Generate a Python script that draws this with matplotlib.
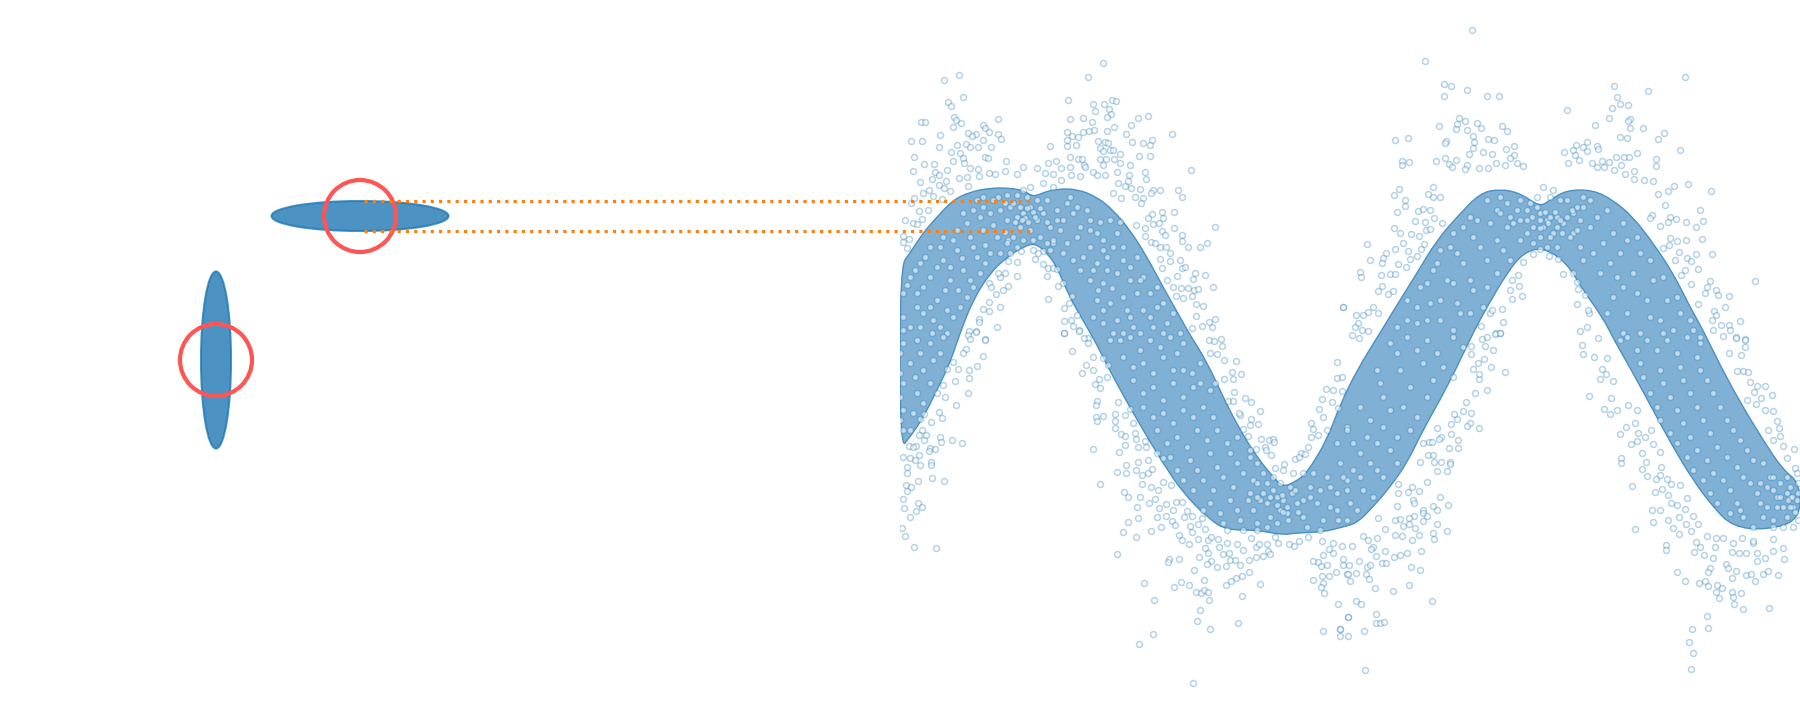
import numpy as np
import matplotlib
matplotlib.use('Agg')
import matplotlib.pyplot as plt
from matplotlib.patches import Ellipse, Circle, PathPatch
from matplotlib.path import Path

# left panel, ellipse and probe circle: (cx, cy, half width, half height)
ellipse_a = (360, 216, 88.5, 15)
ellipse_b = (216, 360, 15, 88.5)
probe_r = 36
guide_x = [364, 1030]
guide_y = [201.3, 231.3]

# edges of the band
upper_x = [900,910,923,937,953,970,990,1010,1025,1033,1045,1057,1077,1097,1113,1130,1147,1163,1180,1190,1207,1223,1240,1257,1273,1283,
           1295,1307,1327,1340,1357,1380,1397,1417,1437,1457,1480,1500,1520,1540,1550,1567,1593,1613,1633,1653,1673,1690,1703,1720,1740,1763,1783,1800]
upper_y = [267,253,233,217,200,192,188,188,191,197,192,189,189,197,210,230,257,287,317,335,362,397,430,457,477,487,
           482,473,440,405,370,333,305,273,240,217,193,189,193,207,200,190,190,200,217,243,273,307,330,365,402,440,470,483]
lower_x = [1800,1767,1733,1713,1693,1673,1653,1633,1613,1603,1583,1567,1543,1523,1507,1487,1473,1457,1440,1423,1407,1390,1373,1357,1343,1323,1295,1283,1257,1227,1210,1183,1163,1143,1123,1107,1097,1087,1070,1057,1047,1035,1023,1007,990,973,960,950,937,923,910,900]
lower_y = [520,530,527,507,480,447,410,373,338,318,290,263,247,253,273,307,333,367,400,430,463,487,507,523,527,532,533,535,530,530,520,493,463,430,395,365,345,327,298,267,253,243,247,257,273,300,333,363,390,418,437,449]

# scatter points, as (x, y) in 3x crops of the picture, one list per crop
crop_a = (890, 40)
crop_b = (890, 330)
crop_c = (1340, 20)
crop_d = (1340, 330)

loose_a = [(640,70),(595,112),(208,106),(163,121),(220,172),(175,187),(184,199),(535,181),(610,193),(643,193),(667,181),(679,184),(657,208),(616,214),(664,223),(652,232),(193,232),(199,241),(214,250),(94,247),(106,247),(190,262),(325,238),(541,238),(580,235),(607,247),(745,235),(775,229),(724,256),(278,256),(286,265),(298,277),(233,280),(259,283),(247,289),(151,286),(325,283),(334,298),(280,301),(64,304),(97,304),(532,277),(580,277),(598,274),(613,271),(652,274),(673,262),(709,283),(847,283),(545,289),(565,292),(532,301),(532,319),(559,316),(481,319),(625,304),(646,307),(655,310),(727,307),(760,310),(787,301),(781,316),(631,325),(640,334),(661,331),(668,331),(691,343),(304,322),(202,316),(229,313),(241,322),(265,322),(146,322),(184,337),(211,340),(73,352),(286,352),(295,355),(349,364),(103,373),(133,373),(190,364),(220,355),(223,370),(541,352),(565,358),(577,358),(631,358),(649,358),(673,358),(691,370),(721,376),(748,349),(781,349),(400,382),(442,385),(475,370),(499,364),(70,394),(172,391),(136,397),(148,406),(346,394),(265,388),(241,385),(583,376),(586,382),(640,376),(514,385),(541,382),(682,397),(718,406),(766,397),(904,391),(769,418),(646,406),(91,427),(127,418),(169,424),(208,415),(232,412),(268,409),(298,400),(316,403),(382,403),(466,400),(490,403),(514,421),(544,406),(571,409),(610,397),(622,406),
           (118,451),(148,436),(163,445),(100,460),(73,475),(130,469),(157,478),(181,454),(235,439),(685,430),(706,439),(715,424),(751,448),(724,445),(790,451),(811,451),(865,451),(877,472),(784,460),(760,475),(736,472),(670,460),(694,475),(754,490),(853,517),(817,517),(787,523),(775,535),(820,535),(790,553),(808,550),(853,565),(766,565),(976,562),(817,574),(877,586),(826,586),(766,589),(739,556),(784,607),(796,610),(877,604),(895,622),(931,622),(952,610),(811,622),(829,622),(841,640),(811,658),(841,664),(871,661),(817,685),(877,685),(886,682),(916,700),(946,706),(862,709),(832,721),(909,718),(970,742),(850,742),(874,745),(895,745),(913,751),(925,748),(859,769),(880,775),(907,769),(919,793),(940,799),(919,829),(976,838),(958,847),(967,862),(937,859),(907,865),(1360,802),(64,490),(88,514),(115,511),(46,541),(70,548),(97,538),(82,553),(40,589),(58,598),(40,607),(52,625),
           (436,658),(460,673),(472,709),(475,685),(490,685),(502,688),(505,739),(520,730),(475,778),(382,709),(355,739),(340,751),(331,802),(298,787),(298,814),(280,808),(268,838),(268,847),(322,862),(259,874),(238,874),(235,886),(286,898),(523,880),(523,844),(523,805),(547,769),(538,790),(562,826),(544,841),(550,859),(568,871),(595,893),(329,712),(298,730),(304,742),(319,763),(382,667),(355,664),(361,640),(394,634),(346,700),(325,700),(460,634),(445,640),(490,610)]

loose_b = [(523,10),(568,3),(286,31),(259,5),(241,28),(229,58),(220,70),(280,79),(262,109),(238,121),(238,145),(235,190),(199,226),(205,118),(190,97),(172,118),(196,154),(160,166),(166,202),(142,190),(124,277),(148,247),(157,265),(103,253),(91,268),(97,301),(109,316),(88,316),(151,322),(154,337),(187,331),(217,340),(103,331),(58,349),(79,349),(70,352),(121,355),(136,358),(118,364),(88,376),(40,382),(61,385),(76,391),(124,397),(124,406),(91,406),(52,412),(52,430),(127,445),(85,454),(163,454),(49,466),(64,472),(52,484),(40,508),(85,520),(97,532),(79,544),(43,535),(61,562),(35,595),(46,619),(73,652),(139,655),
           (547,64),(577,130),(589,106),(610,121),(616,163),(631,175),(628,148),(652,142),(655,106),(640,85),(610,82),(583,25),(595,40),(610,358),(688,367),(631,463),(622,214),(619,226),(619,262),(640,259),(622,274),(676,253),(676,274),(676,295),(694,313),(706,319),(706,346),(685,217),(706,256),(721,238),(730,280),(736,310),(738,328),(745,352),(766,334),(769,352),(775,391),(745,397),(709,406),(709,430),(682,427),(739,421),(757,436),(757,463),(775,430),(787,418),(802,370),(820,385),(703,487),(715,502),(751,502),(784,472),(778,520),(796,508),(742,532),(805,481),(820,457),(844,466),(808,535),(829,523),(850,541),(715,577),(745,565),(802,562),(829,559),(847,574),(856,586),(700,607),(739,622),(784,604),(814,592),(682,673),(868,616),(877,631),(898,643),(877,517),(859,517),(892,544),(907,559),(883,562),(937,565),(901,589),(907,607),(925,583),(925,628),(946,598),(955,631),(964,622),(946,655),(955,670),(928,682),(868,688),(838,688),(835,697),(913,721),(943,751),(763,760),(793,811),(853,772),(874,757),(898,766),(919,787),(934,790),(943,781),(955,787),(958,811),(931,841),(922,874),(961,898),(790,913),(748,943),(1045,880),(910,1060),
           (982,712),(964,694),(952,703),(1009,709),(1021,691),(1051,706),(1036,691),(1078,691),(1060,661),(1099,652),(1135,664),(1141,673),(1099,682),(1120,679),(1009,766),(1024,754),(1039,745),(1057,739),(1078,727),(1111,763),(1057,799),(1000,673),(1018,670),(988,652),(985,628),(1012,640),(1042,643),(1084,625),(1108,643),(1132,643),(1156,622),(1165,640),(1198,643),(1213,649),(1228,634),(1255,622),(1295,634),(1330,640),(1355,649),(1268,694),(1283,697),(1292,709),(1312,706),(1268,751),(1295,739),(1316,739),(1337,727),(1298,760),(1292,772),(1303,790),(1345,823),(1360,706),(1300,904),(1351,898),(1351,919),(1375,862),(1372,733),(1330,670),(1298,676),(1318,658),
           (994,28),(958,31),(973,34),(997,49),(961,70),(982,73),(1003,91),(1039,94),(1054,133),(1027,127),(1030,148),(1003,148),(976,160),(1033,187),(1066,205),(1084,217),(1111,244),(1051,256),(1084,268),(1105,283),(1081,286),(1060,298),(1075,319),(1114,328),(1138,331),(1150,328),(1153,337),(1126,352),(1129,361),(1144,376),(1099,358),(1081,361),(1183,403),(1156,415),(1015,214),(1030,214),(1048,250),
           (1342,97),(1342,145),(1357,142),(1309,178),(1330,181),(1357,184),(1295,208),(1288,238),(1325,217),(1345,235),(1264,280),(1300,262),(1270,298),(1285,316),(1264,322),(1310,301),(1255,352),(1234,370),(1216,388),(1228,382),(1246,373)]

loose_c = [(397,31),(256,124),(313,193),(334,199),(382,211),(313,229),(442,229),(478,229),(682,271),(823,199),(832,232),(841,253),(865,256),(817,265),(808,295),(871,298),(865,304),(925,214),(1036,172),(298,319),(358,295),(376,304),(352,313),(349,328),(382,331),(412,310),(424,325),(487,319),(502,334),(766,316),(871,325),(910,325),(973,340),(955,358),(841,352),(862,355),(166,361),(205,355),(319,364),(316,370),(400,349),(403,367),(400,385),(388,403),(445,358),(463,361),(499,388),(523,379),(430,397),(457,403),(1021,391),(709,376),(742,367),(730,382),(772,379),(775,388),(742,394),(673,397),(700,391),(706,406),(718,421),(892,400),(829,412),(853,412),(868,412),(949,418),(949,439),(187,424),(187,436),(208,427),(289,424),(316,415),(349,421),(328,433),(337,442),(382,436),(376,448),(418,445),(445,445),(469,430),(523,406),(511,415),(496,436),(532,430),(550,439),(685,430),(757,430),(787,424),(808,427),(772,442),(793,442),(823,451),(844,436),(883,454),(1045,493),(1003,499),(985,514),(1114,514),(913,481),(940,484),(856,463),(883,478),(178,508),(163,526),(280,502),(265,523),(280,532),(301,532),(196,541),(196,559),(172,577),(235,574),(250,568),(271,571),(226,604),(283,595),(256,607),(307,610),(163,625),(181,640),(214,643),(238,649),(259,631),(271,628),(82,673),(190,670),(205,694),(253,673),(244,688),(137,700),(166,688),(91,721),(130,715),(127,730),(175,733),(199,742),(211,718),(232,709),(61,757),(64,772),(124,766),(151,763),(166,763),(127,799),(160,814),(115,814),(145,823),(10,862),(100,862),(49,886),(70,886),(115,880),(85,877),(55,910),(67,931),(85,934),(46,922),(37,946),(58,955),
           (1081,571),(1090,604),(1039,607),(1069,622),(1009,598),(991,592),(985,607),(976,556),(955,523),(937,586),(931,595),(961,619),(1087,658),(1069,703),(1117,703),(1246,784),(1039,661),(1012,664),(991,655),(970,685),(988,676),(1018,697),(1006,721),(1042,715),(1054,724),(1075,748),(1024,766),(1111,784),(1054,793),(1102,802),(1129,811),(1135,826),(1168,829),(1156,862),(1075,853),(1123,874),(1129,886),(1201,904),(1115,901),(1144,916),(1168,916),(1171,931),(1120,931),(1150,949),(1189,952),(1216,958),(1036,751),(1096,820),
           (712,853),(748,880),(736,826),(745,871),(721,934),(742,922),(775,955),(712,787),(715,808),(670,763),(700,760),(628,709),(655,718),(580,703),(550,727),(601,688),(535,766),(538,799),(547,829),(517,838),(487,868),(451,880),(490,907),(469,940),(481,940),(424,919),(457,871),(517,781),(511,811)]

loose_d = [(496,127),(442,181),(406,190),(379,217),(418,148),(418,133),(400,118),(454,112),(433,88),(460,61),(415,100),(394,73),(394,49),(427,28),(436,49),(442,22),(466,13),(481,10),(370,244),(394,250),(352,268),(343,253),(391,280),(382,289),(418,295),(334,283),(292,295),(334,313),(355,331),(355,355),(328,355),(304,322),(298,328),(268,337),(277,337),(250,340),(304,397),(283,397),(331,397),(331,403),(322,424),(292,424),(265,376),(280,376),(241,397),(262,457),(217,472),(238,484),(205,487),(175,463),(175,490),(301,502),(325,526),(280,529),(292,541),(220,511),(223,520),(172,529),(250,541),(250,550),(262,559),(223,559),(208,565),(181,568),(166,571),(250,574),(292,583),(208,583),(190,589),(226,595),(322,604),(280,610),(238,616),(283,628),(217,631),(166,616),(187,619),(136,598),(115,565),(112,625),(244,664),(202,670),(181,676),(163,682),(136,664),(100,652),(70,619),(85,631),(94,658),(109,679),(127,700),(139,700),(214,712),(241,721),(80,712),(91,706),(58,694),(37,649),(10,688),(28,706),(49,730),(25,733),(79,733),(88,748),(31,754),(208,766),(160,784),(106,775),(277,814),(49,814),(64,823),(25,862),(109,853),(109,880),(121,880),(133,877),(73,904),(25,919),(76,1021),(0,898),
           (727,46),(730,73),(763,82),(802,85),(781,148),(820,154),(787,118),(799,133),(748,199),(814,205),(793,238),(811,253),(832,241),(865,226),(859,292),(841,313),(892,241),(886,280),(895,310),(874,343),(892,334),(916,322),(934,301),(940,343),(961,367),(907,370),(844,385),(844,400),(919,397),(964,412),(907,418),(922,439),(877,469),(949,448),(961,436),(982,448),(994,463),(1021,466),(946,487),(967,478),(985,496),(1042,505),(994,520),(1012,526),(937,541),(961,541),(1036,538),(1018,562),(940,577),(985,571),(886,598),(1000,595),(1018,613),(1039,583),(1060,559),(1075,583),(1054,604),(977,646),(979,661),(1063,667),(1081,652),(1069,637),(1102,619),(1129,625),(1012,727),(1036,754),(1078,760),(1096,754),(1105,769),(1111,715),(1105,727),(1093,676),(1120,685),(1159,703),(1165,715),(1189,724),(1177,745),(1219,736),(1234,733),(1246,754),(1270,733),(1285,724),(1313,736),(1130,766),(1145,775),(1129,787),(1138,805),(1175,787),(1178,802),(1204,790),(1181,823),(1210,838),(1288,835),(1102,859),(1105,895),(1057,898),(1048,937),(1060,970),(1054,1018),
           (1175,667),(1198,670),(1219,670),(1240,640),(1250,670),(1275,685),(1250,694),(1300,664),(1333,688),(1330,655),(1300,628),(1240,632),(1125,650),(1150,625),(1180,640),(1205,625),
           (1189,25),(1216,31),(1216,52),(1204,76),(1168,70),(1192,124),(1210,124),(1225,127),(1231,157),(1276,169),(1252,169),(1243,187),(1297,196),(1264,205),(1249,223),(1222,211),(1276,241),(1300,244),(1312,274),(1285,301),(1318,295),(1319,319),(1330,349),(1363,358),(1300,331),(1342,385),(1366,415),(1372,430)]

inner_a = [(360,500),(380,530),(400,520),(420,500),(440,540),(460,520),(480,560),(500,510),(520,540),(550,520),(570,560),(600,570),(390,560),(420,570),(350,540),(330,510),(300,520),(280,500),(250,510),(220,520),(450,590),(490,600),(530,610),(560,590),(600,620),(620,580),(640,600),(660,540),(680,580),(700,620),(650,650),(620,670),(580,650),(550,660),(600,720),(640,730),(680,700),(720,680),(760,710),(780,760),(740,760),(700,770),(660,790),(620,780),(640,850),(680,840),(720,830),(760,810),(800,800),(830,850),(790,860),(750,880),(700,880),(200,570),(160,590),(120,620),(90,670),(60,710),(40,760),(80,760),(120,710),(160,660),(200,630),(240,590),(280,570),(320,590),(300,640),(260,650),(220,690),(180,720),(140,780),(100,820),(60,860),(150,860),(190,830),(230,770),(270,700),(40,830),
           (230,550),(270,530),(310,555),(345,575),(190,600),(150,620),(215,655),(250,620),(285,615),(330,640),(355,600),(105,650),(75,690),(50,735),(100,740),(140,680),(180,680),(240,720),(205,750),(165,750),(120,800),(80,800),(40,870),(90,860),(130,840),(170,810),(210,800),(250,740),(285,670),(125,880),(170,880),(600,540),(630,545),(690,545),(640,630),(670,620),(700,660),(740,650),(720,720),(650,690),(610,690),(570,690),(625,750),(665,745),(710,810),(750,720),(800,740),(820,790),(850,820),(870,880),(820,880),(780,830),(730,860),(670,880),(610,830),(640,810)]
inner_b = [(40,40),(80,30),(120,40),(160,20),(60,100),(100,120),(40,160),(80,190),(120,160),(40,240),(70,250),(40,300),(660,30),(720,20),(780,30),(840,20),(880,40),(700,80),(760,100),(820,80),(880,120),(930,100),(730,150),(790,170),(850,160),(910,170),(960,180),(760,230),(820,250),(880,240),(940,230),(800,300),(860,320),(920,300),(980,300),(1040,320),(840,380),(900,390),(960,370),(1020,370),(1080,380),(880,450),(940,450),(1000,440),(1060,430),(1120,430),(960,520),(1020,510),(1080,490),(1110,510),(1150,480),(1180,510),(1200,470),(1220,520),(1170,540),(1190,550),(1140,560),(1090,540),(1050,570),(1000,580),(1240,560),(1280,520),(1260,470),(1310,440),(1350,400),(1300,570),(1340,540),(1370,480),(1340,340),(1370,290),
           (30,70),(90,70),(150,70),(30,130),(130,90),(75,140),(30,200),(100,220),(30,270),(60,300),(690,30),(750,60),(810,50),(860,70),(730,110),(790,130),(850,120),(905,130),(760,190),(820,210),(880,200),(930,160),(790,260),(850,280),(910,260),(970,260),(830,340),(890,350),(950,330),(1010,340),(860,420),(920,420),(980,410),(1040,400),(1100,400),(910,480),(970,480),(1030,470),(1090,450),(990,550),(1040,540),(1100,580),(940,540),(1010,600),(1060,600)]
inner_c = [(200,840),(240,800),(280,750),(300,690),(340,640),(390,590),(440,540),(480,530),(530,570),(570,550),(600,580),(620,600),(650,590),(670,610),(610,620),(640,640),(580,620),(540,660),(500,620),(450,610),(400,650),(350,700),(320,780),(270,850),(230,910),(170,920),(300,900),(350,850),(390,780),(440,720),(490,690),(440,800),(390,880),(340,930),(710,560),(750,540),(800,570),(850,610),(890,650),(930,720),(970,770),(1010,830),(1050,900),(1080,950),(700,640),(750,620),(790,670),(840,700),(880,760),(920,840),(960,900),(1000,930),(730,720),(780,760),(820,830),(860,880),(900,940),(850,940),
           (230,860),(260,790),(290,730),(330,680),(370,620),(410,600),(470,570),(510,590),(560,600),(420,680),(470,660),(370,730),(340,790),(300,840),(260,900),(200,900),(400,810),(360,880),(430,860),(470,760),(510,720),(730,530),(770,590),(820,640),(860,660),(900,700),(940,780),(980,840),(1020,880),(1060,930),(720,680),(760,700),(810,730),(850,800),(890,820),(930,890),(970,940),(800,880),(830,770),(700,580),(680,540)]
inner_d = [(20,300),(60,230),(110,120),(150,40),(200,20),(260,30),(340,20),(130,200),(180,120),(250,100),(310,110),(80,320),(130,290),(190,230),(260,200),(40,420),(90,400),(150,360),(210,300),(30,520),(70,480),(130,440),(860,20),(920,30),(980,30),(1040,20),(1080,40),(900,100),(960,120),(1020,110),(1080,120),(930,190),(990,200),(1050,190),(1120,190),(960,270),(1030,280),(1090,270),(1160,270),(1010,340),(1070,360),(1130,350),(1200,330),(1060,420),(1120,430),(1190,410),(1240,390),(1110,490),(1170,480),(1230,460),(1290,440),(1200,540),(1260,520),(1310,500),(1350,500),(1360,530),(1240,590),(1300,570),(1340,440),
           (40,340),(90,270),(120,160),(170,70),(230,60),(290,70),(370,50),(150,240),(210,170),(280,150),(340,140),(60,370),(110,340),(170,320),(230,260),(20,450),(60,440),(110,420),(170,400),(50,540),(100,500),(20,570),(840,30),(890,60),(950,60),(1010,70),(1070,80),(910,140),(970,160),(1030,150),(1100,150),(950,230),(1010,240),(1070,230),(1140,230),(990,310),(1050,320),(1110,310),(1180,300),(1040,380),(1100,390),(1160,380),(1220,360),(1090,450),(1150,450),(1210,440),(1270,400),(1130,520),(1190,520),(1250,490)]

# the crowded spots where the band bends back on itself
bend_a = [(370,490),(390,500),(405,535),(415,545),(430,515),(375,545),(395,540),(410,505),(435,530),(450,505),(345,490),(325,470),(350,465),(380,465),(410,470),(440,480),(470,480),(470,545),(500,540),(530,490),(560,500),(510,570),(470,610),(430,600),(400,600),(370,590),(350,610),(380,620),(430,630),(480,630),(520,640),(310,480),(280,470),(260,480),(540,470),(590,510),(400,450),(420,440),(460,430),(490,440)]
bend_b = [(1120,490),(1130,520),(1160,500),(1175,495),(1190,530),(1205,490),(1215,480),(1160,525),(1180,545),(1140,500),(1100,500),(1075,510),(1240,510),(1260,500),(1225,545),(1195,570),(1160,580),(1130,590),(1100,600),(1250,590),(1290,600),(1180,420),(1210,430),(1150,440),(1130,460),(1170,460),(1240,430),(1270,430),(1100,460),(1290,480),(1320,530),(1345,570),(1320,470),(1360,440),(1340,490)]
bend_c = [(560,570),(590,560),(600,600),(615,575),(630,590),(645,575),(660,600),(625,610),(600,625),(575,590),(540,600),(520,610),(680,590),(695,570),(720,600),(650,620),(665,640),(630,650),(600,650),(560,640),(590,530),(630,530),(660,540),(610,500),(640,510),(580,670),(620,680),(650,680),(690,650),(710,630),(540,540),(500,550),(730,560),(480,580)]
bend_d = [(1280,470),(1300,480),(1320,500),(1340,490),(1345,510),(1355,500),(1370,510),(1350,530),(1365,545),(1375,490),(1330,530),(1310,530),(1280,530),(1320,460),(1350,470),(1375,460),(1300,440),(1260,460),(1270,560),(1300,590),(1330,590),(1360,590),(1375,570),(1210,560),(1170,550),(1340,560)]


def from_crop(points, crop):
    pts = np.array(points, dtype=float)
    return crop[0] + pts[:, 0] / 3, crop[1] + pts[:, 1] / 3


def smooth_outline(xs, ys):
    # quadratic pieces through the midpoints, so the read edge is not jagged
    verts = np.column_stack([xs, ys])
    mids = (verts + np.roll(verts, -1, axis=0)) / 2
    path_v = [mids[-1]]
    codes = [Path.MOVETO]
    for v, m in zip(verts, mids):
        path_v += [v, m]
        codes += [Path.CURVE3, Path.CURVE3]
    return Path(path_v, codes)


groups = [(loose_a, crop_a), (loose_b, crop_b), (loose_c, crop_c), (loose_d, crop_d),
          (inner_a, crop_a), (inner_b, crop_b), (inner_c, crop_c), (inner_d, crop_d),
          (bend_a, crop_a), (bend_b, crop_b), (bend_c, crop_c), (bend_d, crop_d)]
xy = [from_crop(p, c) for p, c in groups]
dot_x = np.concatenate([g[0] for g in xy])
dot_y = np.concatenate([g[1] for g in xy])

fig = plt.figure(figsize=(18, 7.2), dpi=100)
ax1 = fig.add_axes([0, 0, 0.5, 1], zorder=2)
ax2 = fig.add_axes([0.5, 0, 0.5, 1], zorder=1)
for ax, lim in ((ax1, (0, 900)), (ax2, (900, 1800))):
    ax.set_xlim(lim)
    ax.set_ylim(720, 0)
    ax.axis('off')

for cx, cy, w, h in (ellipse_a, ellipse_b):
    ax1.add_patch(Ellipse((cx, cy), 2 * w, 2 * h, fc=(0.12, 0.47, 0.71, 0.8), ec=(0.12, 0.47, 0.71, 0.8), lw=1.5))
    ax1.add_patch(Circle((cx, cy), probe_r, fc='none', ec='#ff5555', lw=3))

for gy in guide_y:
    ax1.plot(guide_x, [gy, gy], ls=':', color='#ff7f0e', lw=2.25, clip_on=False)

ax2.add_patch(PathPatch(smooth_outline(upper_x + lower_x, upper_y + lower_y), fc='#80b1d5', ec='#4a90c2', lw=1))
ax2.scatter(dot_x, dot_y, s=18, facecolors=(1, 1, 1, 0.55), edgecolors=(0.12, 0.47, 0.71, 0.33), linewidths=1.1)

fig.savefig('out.png', dpi=100)
